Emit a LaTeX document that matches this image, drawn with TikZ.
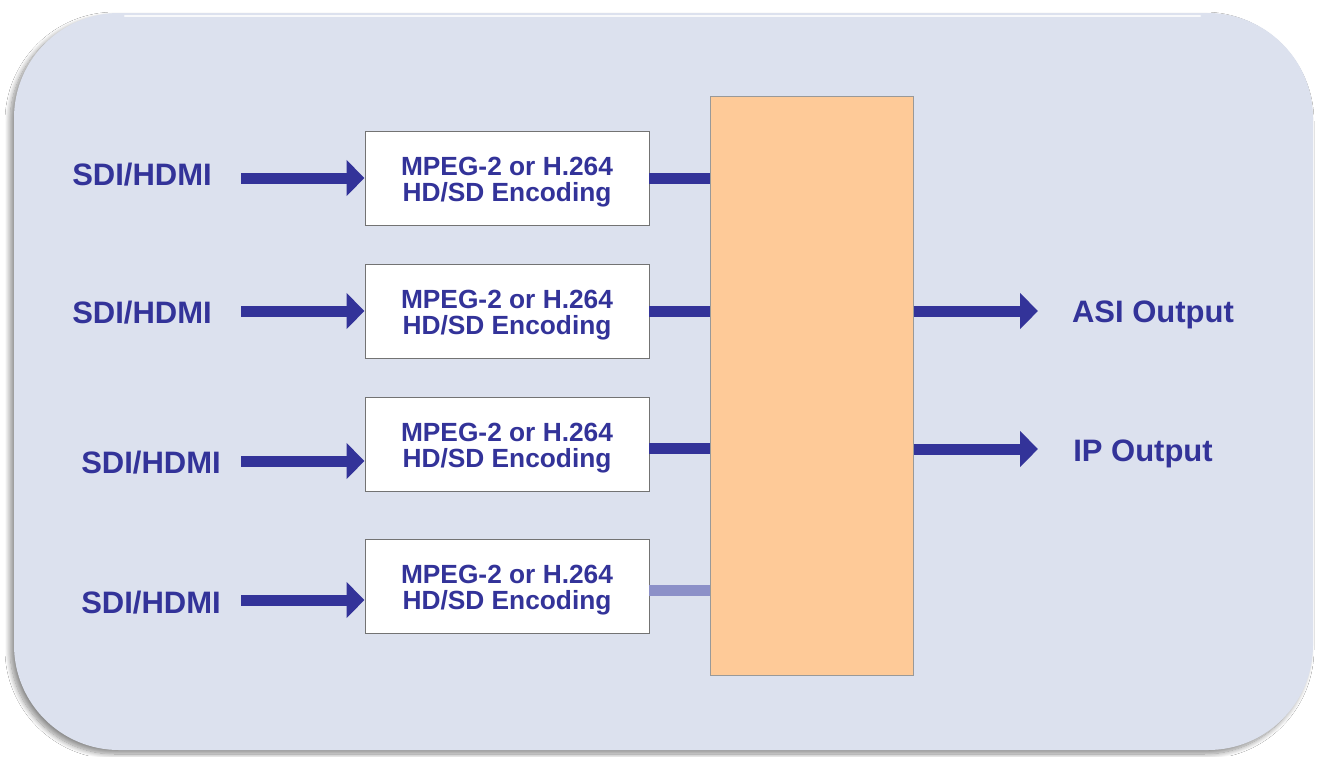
\documentclass[tikz,border=0pt]{standalone}
\usepackage{fontspec}
\setmainfont{Liberation Sans}
\usetikzlibrary{arrows.meta,shadows.blur}
\definecolor{navy}{RGB}{51,51,153}
\definecolor{lightnavy}{RGB}{140,144,200}
\definecolor{panel}{RGB}{220,225,238}
\definecolor{muxfill}{RGB}{254,202,152}
\tikzset{
  lbl/.style={text=navy, font=\fontsize{31}{36}\selectfont\bfseries, inner sep=0pt, text depth=0pt},
  encbox/.style={draw=black!55, line width=1pt, fill=white, minimum width=284pt, minimum height=94pt, inner sep=0pt},
  enctext/.style={align=center, text=navy, inner sep=0pt, font=\fontsize{26.3}{26}\selectfont\bfseries},
  muxbox/.style={draw=black!40, line width=1pt, fill=muxfill, minimum width=203pt, minimum height=579pt, inner sep=0pt},
  inarrow/.style={draw=navy, line width=11pt, -{Triangle[length=18pt,width=35pt]}},
  link/.style={draw=navy, line width=11pt},
  fadelink/.style={draw=lightnavy, line width=11pt},
}
\begin{document}
\begin{tikzpicture}[x=1pt,y=-1pt]
\useasboundingbox (0,0) rectangle (1322,756);
\fill[white] (0,0) rectangle (1322,756);
% panel
\fill[panel, rounded corners=105pt, blur shadow={shadow xshift=-4pt, shadow yshift=-4pt, shadow blur radius=5pt, shadow blur steps=12, shadow opacity=45}] (14,13) rectangle (1313,750);
\draw[white, opacity=0.8, line width=2.5pt, line cap=round] (125,16) -- (1200,16);
% mux
\node[muxbox] (mux) at (811.5,385.5) {};
% encoders
\node[encbox, label={[enctext, yshift=-4pt]center:{MPEG-2 or H.264\\HD/SD Encoding}}] (enc1) at (507,178) {};
\node[encbox, label={[enctext, yshift=-4pt]center:{MPEG-2 or H.264\\HD/SD Encoding}}] (enc2) at (507,311.5) {};
\node[encbox, label={[enctext, yshift=-4pt]center:{MPEG-2 or H.264\\HD/SD Encoding}}] (enc3) at (507,444.5) {};
\node[encbox, label={[enctext, yshift=-4pt]center:{MPEG-2 or H.264\\HD/SD Encoding}}] (enc4) at (507,586.5) {};
% inputs
\node[lbl] (in1) at (142,174) {SDI/HDMI};
\node[lbl] (in2) at (142,312) {SDI/HDMI};
\node[lbl] (in3) at (151,462) {SDI/HDMI};
\node[lbl] (in4) at (151,602) {SDI/HDMI};
\coordinate (a1) at (241,178);
\coordinate (a2) at (241,311);
\coordinate (a3) at (241,461);
\coordinate (a4) at (241,600);
\draw[inarrow] (a1) -- (a1 -| enc1.west);
\draw[inarrow] (a2) -- (a2 -| enc2.west);
\draw[inarrow] (a3) -- (a3 -| enc3.west);
\draw[inarrow] (a4) -- (a4 -| enc4.west);
% links
\coordinate (l1) at (649,178);
\coordinate (l2) at (649,311);
\coordinate (l3) at (649,448);
\coordinate (l4) at (649,590);
\draw[link] (l1) -- (l1 -| mux.west);
\draw[link] (l2) -- (l2 -| mux.west);
\draw[link] (l3) -- (l3 -| mux.west);
\draw[fadelink] (l4) -- (l4 -| mux.west);
% outputs
\node[lbl] (asi) at (1153,312) {ASI Output};
\node[lbl] (ip) at (1143,451) {IP Output};
\coordinate (o1) at (1038,311);
\coordinate (o2) at (1038,449);
\draw[inarrow] (o1 -| mux.east) -- (o1);
\draw[inarrow] (o2 -| mux.east) -- (o2);
\end{tikzpicture}
\end{document}
